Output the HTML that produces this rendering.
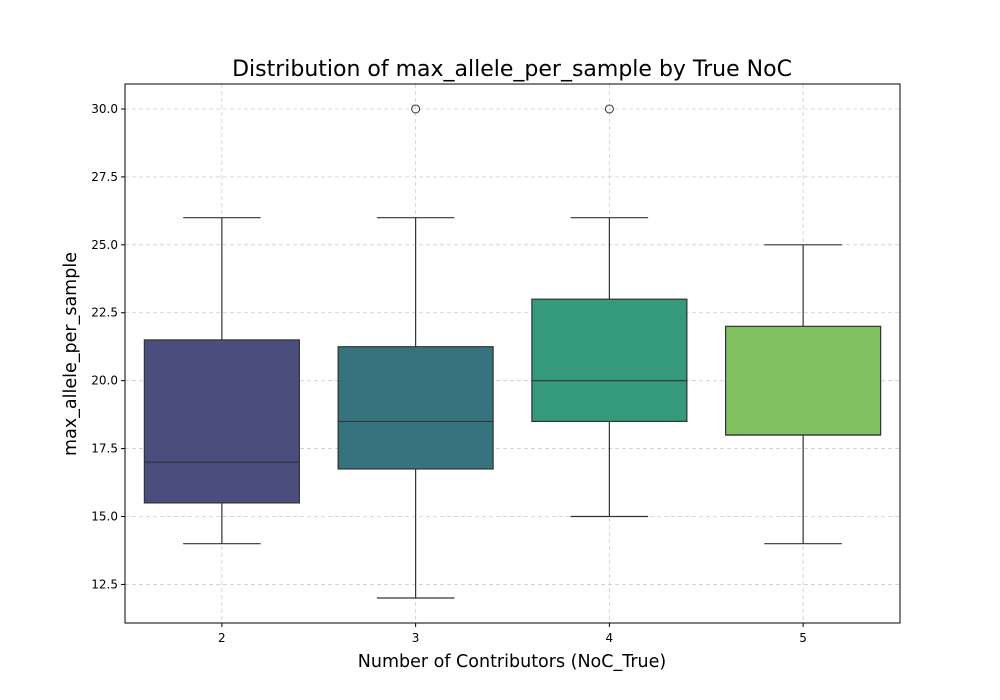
<!DOCTYPE html>
<html><head><meta charset="utf-8"><style>body{margin:0;background:#fff}svg{display:block;font-family:"DejaVu Sans","Liberation Sans",sans-serif}</style></head>
<body>
<svg id="chart" width="1000" height="700" xmlns="http://www.w3.org/2000/svg"></svg>
<script>
const categories=["2","3","4","5"];
const whiskerLow=[14,12,15,14];
const q1=[15.5,16.75,18.5,18];
const median=[17,18.5,20,18];
const q3=[21.5,21.25,23,22];
const whiskerHigh=[26,26,26,25];
const outliers=[[],[30],[30],[]];
const yTicks=[12.5,15,17.5,20,22.5,25,27.5,30];
const colors=["#4b4d7f","#37727f","#35997b","#80c161"];
const L=125,R=900,T=84,B=623,ymin=11.08,ymax=30.92;
const NS="http://www.w3.org/2000/svg";
const svg=document.getElementById('chart');
const y=v=>B-(v-ymin)/(ymax-ymin)*(B-T);
const bw=(R-L)/categories.length;
const x=i=>L+bw*(i+0.5);
function el(t,a,p){const e=document.createElementNS(NS,t);for(const k in a)e.setAttribute(k,a[k]);(p||svg).appendChild(e);return e;}
const grid=el('g',{});
yTicks.forEach(v=>{el('line',{x1:L,x2:R,y1:y(v),y2:y(v),stroke:'#cccccc','stroke-dasharray':'4,3','stroke-width':0.8},grid);});
categories.forEach((c,i)=>{el('line',{x1:x(i),x2:x(i),y1:T,y2:B,stroke:'#cccccc','stroke-dasharray':'4,3','stroke-width':0.8},grid);});
categories.forEach((c,i)=>{
 const g=el('g',{});
 
 
 const cx=x(i),hw=bw*0.4,cw=bw*0.2;
 el('line',{x1:cx,x2:cx,y1:y(whiskerLow[i]),y2:y(q1[i]),stroke:'#333',"stroke-width":1.2},g);
 el('line',{x1:cx,x2:cx,y1:y(q3[i]),y2:y(whiskerHigh[i]),stroke:'#333',"stroke-width":1.2},g);
 el('line',{x1:cx-cw,x2:cx+cw,y1:y(whiskerLow[i]),y2:y(whiskerLow[i]),stroke:'#333',"stroke-width":1.2},g);
 el('line',{x1:cx-cw,x2:cx+cw,y1:y(whiskerHigh[i]),y2:y(whiskerHigh[i]),stroke:'#333',"stroke-width":1.2},g);
 el('rect',{x:cx-hw,y:y(q3[i]),width:2*hw,height:y(q1[i])-y(q3[i]),fill:colors[i],stroke:'#333',"stroke-width":1.2},g);
 el('line',{x1:cx-hw,x2:cx+hw,y1:y(median[i]),y2:y(median[i]),stroke:'#333',"stroke-width":1.2},g);
 outliers[i].forEach(v=>el('circle',{cx:cx,cy:y(v),r:4,fill:'none',stroke:'#333',"stroke-width":1},g));
 const t=el('text',{x:cx,y:B+19,'font-size':12,'text-anchor':'middle',fill:'#000'});t.textContent=c;
 
 el('line',{x1:cx,x2:cx,y1:B,y2:B+4,stroke:'#000'});
});
yTicks.forEach(v=>{
 el('line',{x1:L-4,x2:L,y1:y(v),y2:y(v),stroke:'#000'});
 const t=el('text',{x:L-7,y:y(v)+4,'font-size':12,'text-anchor':'end',fill:'#000'});t.textContent=v.toFixed(1);
 
});
const fr=el('rect',{x:L,y:T,width:R-L,height:B-T,fill:'none',stroke:'#000','stroke-width':1});

let t=el('text',{x:512,y:76,'font-size':22,'text-anchor':'middle'});t.textContent='Distribution of max_allele_per_sample by True NoC';

t=el('text',{x:512,y:667,'font-size':17.5,'text-anchor':'middle'});t.textContent='Number of Contributors (NoC_True)';

t=el('text',{x:76,y:354,'font-size':17.5,'text-anchor':'middle',transform:'rotate(-90 76 354)'});t.textContent='max_allele_per_sample';

</script>
</body></html>
